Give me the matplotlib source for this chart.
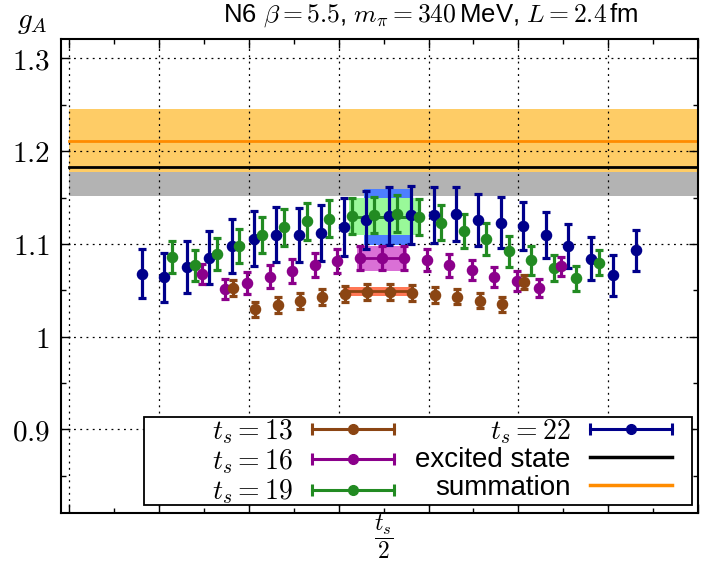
import numpy as np
import matplotlib
matplotlib.use('Agg')
import matplotlib.pyplot as plt
from matplotlib.lines import Line2D
from matplotlib.patches import Rectangle
from matplotlib.legend_handler import HandlerLine2D, HandlerTuple
from matplotlib.ticker import MultipleLocator, FixedLocator, FuncFormatter
from matplotlib.transforms import blended_transform_factory

plt.rcParams['font.family'] = ['Liberation Sans', 'DejaVu Sans']
plt.rcParams['mathtext.fontset'] = 'cm'

# ratio g_A(tau) for tau = 0 .. t_s
ts_values = [13, 16, 19, 22]
ga_13 = [1.052, 1.0294, 1.034, 1.0383, 1.0423, 1.046, 1.048, 1.048, 1.047,
         1.0448, 1.043, 1.0386, 1.0348, 1.0591]
err_13 = [0.0086, 0.0081, 0.0086, 0.0086, 0.0086, 0.0086, 0.0086, 0.0086,
          0.0085, 0.0083, 0.0083, 0.0081, 0.008, 0.0077]
ga_16 = [1.0674, 1.051, 1.058, 1.0645, 1.071, 1.077, 1.0814, 1.085, 1.0843,
         1.0843, 1.0825, 1.0768, 1.0717, 1.0645, 1.060, 1.052, 1.076]
err_16 = [0.011, 0.011, 0.012, 0.0122, 0.0127, 0.013, 0.013, 0.013, 0.013,
          0.013, 0.0117, 0.0122, 0.011, 0.0108, 0.0104, 0.0097, 0.0102]
ga_19 = [1.086, 1.077, 1.089, 1.098, 1.110, 1.118, 1.1245, 1.127, 1.130,
         1.131, 1.1325, 1.129, 1.123, 1.114, 1.105, 1.092, 1.0825, 1.0735,
         1.063, 1.0796]
err_19 = [0.0169, 0.0169, 0.0172, 0.0185, 0.0194, 0.0198, 0.0201, 0.020,
          0.0192, 0.0195, 0.0197, 0.0198, 0.0192, 0.018, 0.017, 0.0165,
          0.0156, 0.014, 0.0135, 0.0135]
ga_22 = [1.068, 1.064, 1.075, 1.085, 1.098, 1.1055, 1.110, 1.1095, 1.112,
         1.118, 1.126, 1.130, 1.131, 1.131, 1.132, 1.126, 1.123, 1.1195,
         1.1095, 1.098, 1.084, 1.066, 1.093]
err_22 = [0.026, 0.0266, 0.0277, 0.0288, 0.0293, 0.0296, 0.0296, 0.0288,
          0.030, 0.0314, 0.031, 0.0314, 0.031, 0.030, 0.0293, 0.0282, 0.0275,
          0.026, 0.0248, 0.0237, 0.023, 0.0223, 0.022]

# plateau fits: value, error, first tau, last tau
plateau_13 = (1.0488, 0.0049, 5, 8)
plateau_16 = (1.0843, 0.0133, 7, 9)
plateau_19 = (1.1295, 0.0195, 8, 11)
plateau_22 = (1.1290, 0.0303, 10, 12)

excited_val, excited_err = 1.1824, 0.0306
summation_val, summation_err = 1.2115, 0.0338

series = {13: (ga_13, err_13, plateau_13),
          16: (ga_16, err_16, plateau_16),
          19: (ga_19, err_19, plateau_19),
          22: (ga_22, err_22, plateau_22)}
colors = {13: '#8B4513', 16: '#8B008B', 19: '#228B22', 22: '#00008B'}
band_colors = {13: '#FF7755', 16: '#DA70D6', 19: '#99F999', 22: '#4D7FFF'}
shift = {13: -0.225, 16: -0.075, 19: 0.075, 22: 0.225}

fig = plt.figure(figsize=(7.01, 5.62), dpi=100)
ax = fig.add_axes([0.0866, 0.0877, 0.9098, 0.8429])

# excited-state and summation results across the whole range
xb = [-14, 14]
ax.fill_between(xb, excited_val - excited_err, excited_val + excited_err,
                color='#B3B3B3', lw=0, zorder=1)
ax.fill_between(xb, summation_val - summation_err, summation_val + summation_err,
                color='#FECC66', lw=0, zorder=1.1)
ax.plot(xb, [summation_val] * 2, color='#FF8C00', lw=2, zorder=1.2)
ax.plot(xb, [excited_val] * 2, color='black', lw=2, zorder=1.3)

# plateau bands
for ts in [22, 19, 16, 13]:
    val, err, t0, t1 = series[ts][2]
    x0 = t0 - ts / 2 + shift[ts] - 0.1
    x1 = t1 - ts / 2 + shift[ts] + 0.1
    ax.fill_between([x0, x1], val - err, val + err, color=band_colors[ts],
                    lw=0, zorder=1.5)
    ax.plot([x0, x1], [val, val], color=colors[ts], lw=2, zorder=1.6)

# ratio data
for ts in [22, 19, 16, 13]:
    vals, errs, _ = series[ts]
    x = np.arange(ts + 1) - ts / 2 + shift[ts]
    ax.errorbar(x, vals, yerr=errs, fmt='o', color=colors[ts], ms=7.3,
                elinewidth=2.3, capsize=3, capthick=2.3, zorder=3)

ax.set_xlim(-14.39, 14.03)
ax.set_ylim(0.81, 1.321)

ax.xaxis.set_major_locator(FixedLocator(np.arange(-14, 15, 4)))
ax.xaxis.set_minor_locator(FixedLocator(np.arange(-14, 15, 2)))
ax.yaxis.set_major_locator(MultipleLocator(0.1))
ax.yaxis.set_minor_locator(MultipleLocator(0.05))
ax.set_xticklabels([])
ax.yaxis.set_major_formatter(FuncFormatter(lambda v, p: r'$%g$' % round(v, 2)))
ax.tick_params(which='both', direction='in', top=True, right=True, width=1)
ax.tick_params(which='major', length=6.5)
ax.tick_params(which='minor', length=3.5)
ax.tick_params(axis='y', labelsize=21, pad=8)
for s in ax.spines.values():
    s.set_linewidth(1.5)

ax.set_axisbelow(False)
ax.grid(True, which='major', color='black', ls=(0, (1.5, 3.5)), lw=0.9)

# legend
frame = Rectangle((0.131, 0.017), 0.859, 0.186, transform=ax.transAxes,
                  facecolor='white', edgecolor='black', lw=1.3, zorder=4)
ax.add_patch(frame)

handles, labels, hmap = [], [], {}
for ts in ts_values:
    dot = Line2D([], [], color=colors[ts], lw=2.2, marker='o', ms=7)
    caps = Line2D([], [], color=colors[ts], ls='none', marker='|', ms=9, mew=2.2)
    hmap[dot] = HandlerLine2D(numpoints=1)
    hmap[caps] = HandlerLine2D(numpoints=2, marker_pad=0)
    handles.append((dot, caps))
    labels.append(r'$t_s = %d$' % ts)
handles.append(Line2D([], [], color='black', lw=2.5))
labels.append('excited state')
handles.append(Line2D([], [], color='#FF8C00', lw=2.5))
labels.append('summation')
hmap[tuple] = HandlerTuple(ndivide=1, pad=0)

leg = ax.legend(handles, labels, handler_map=hmap, ncol=2, markerfirst=False,
                frameon=False, fontsize=20, handlelength=2.95,
                handletextpad=0.7, columnspacing=0.76, labelspacing=0.05,
                borderpad=0, borderaxespad=0, loc='center right',
                bbox_to_anchor=(0.958, 0.108))
leg.set_zorder(5)

trans = blended_transform_factory(ax.transData, ax.transAxes)
ax.text(0, -0.05, r'$\dfrac{t_s}{2}$', transform=trans, ha='center',
        va='center', fontsize=17)

fig.text(0.614, 1 - 15 / 562,
         r'N6 $\beta = 5.5$, $m_\pi = 340\,$MeV, $L = 2.4\,$fm',
         ha='center', va='center', fontsize=18.5)
fig.text(32 / 701, 1 - 22 / 562, r'$g_A$', ha='center', va='center',
         fontsize=21)

fig.savefig('out.png', dpi=100)
